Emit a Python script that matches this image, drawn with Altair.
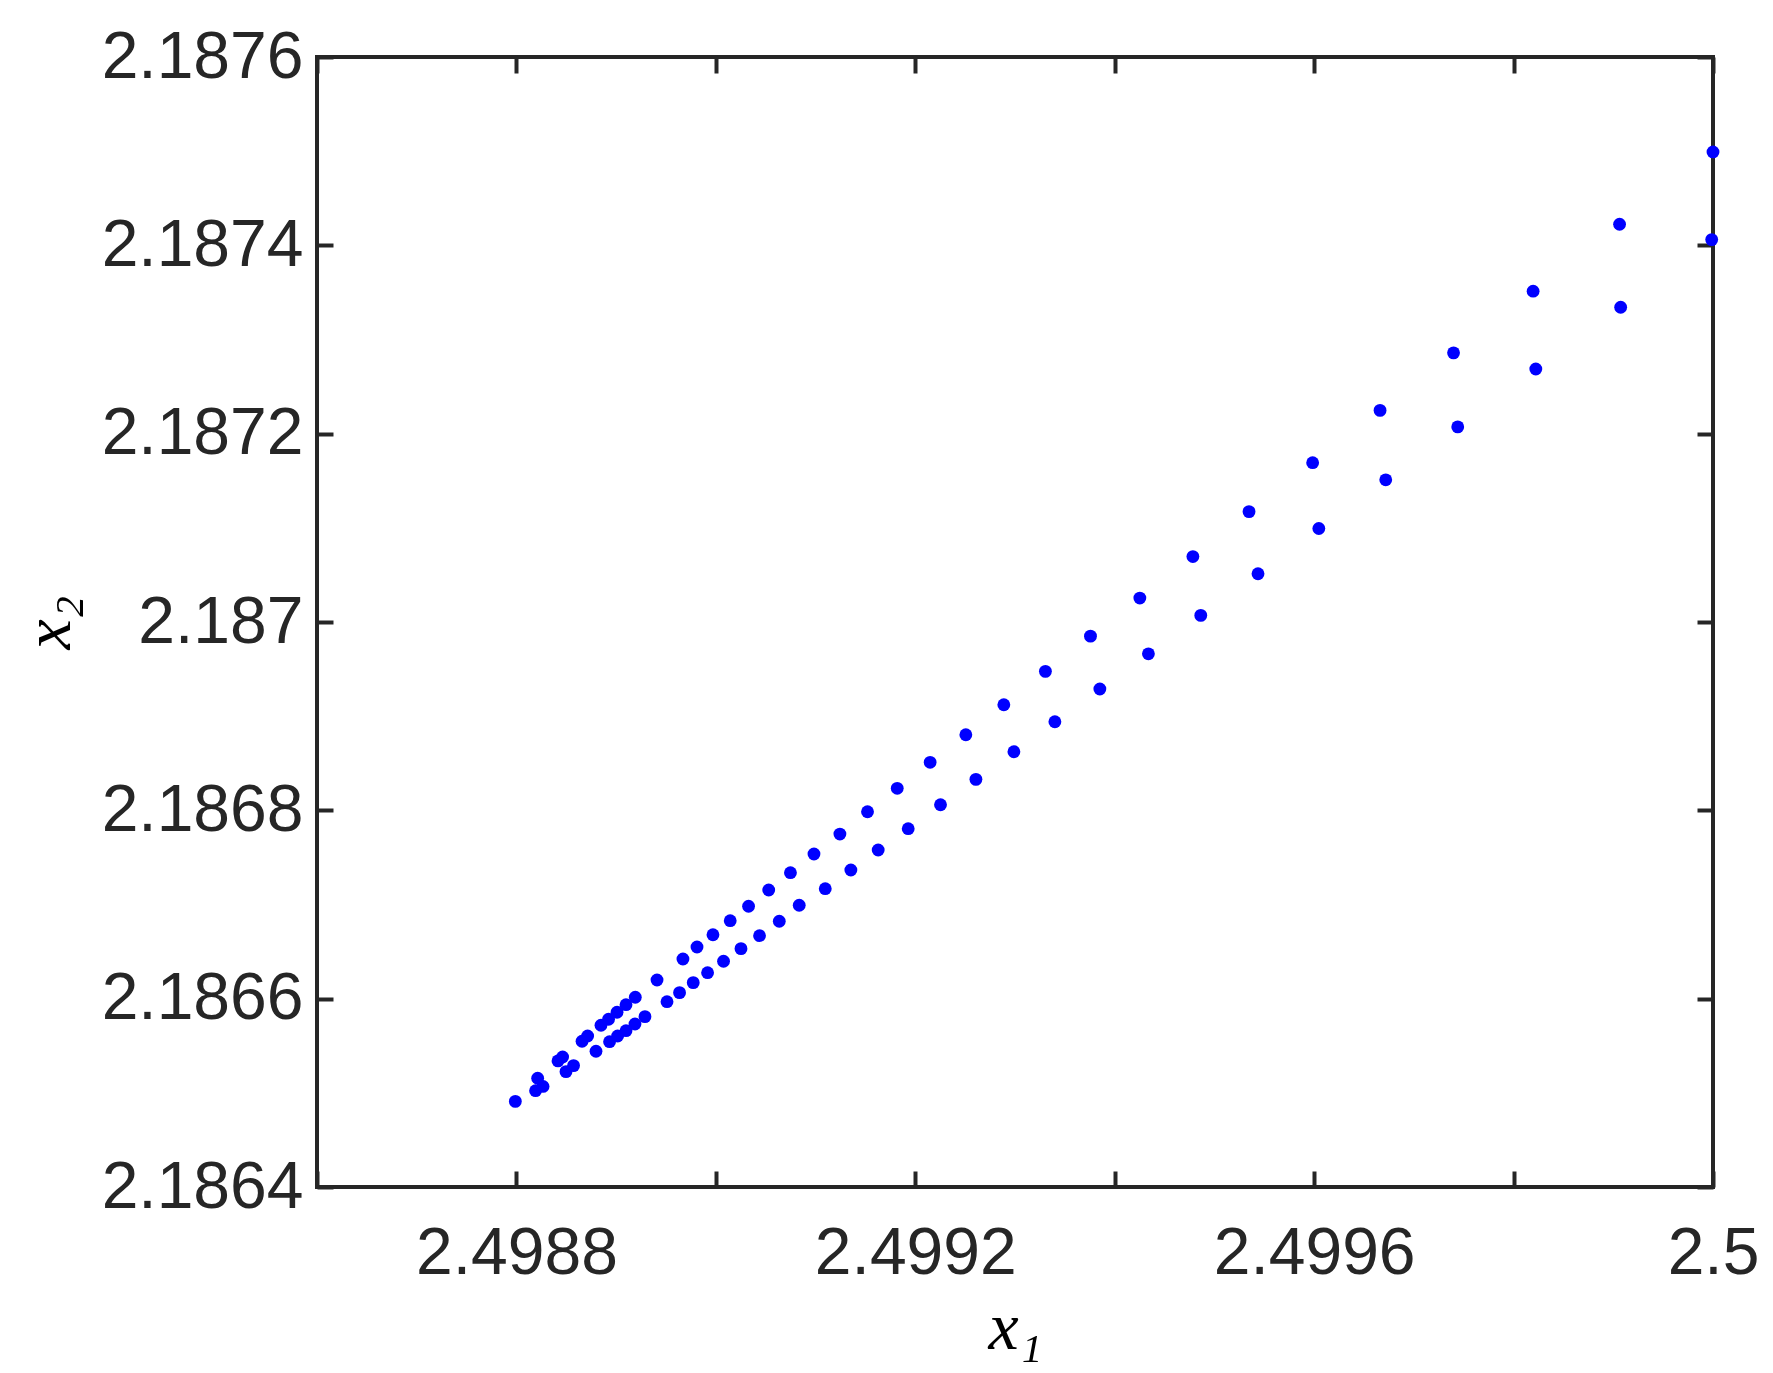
import altair as alt
import pandas as pd

# Upper branch of the iterate sequence
x1_upper = [2.5000000, 2.4999063, 2.4998196, 2.4997398, 2.4996661, 2.4995985, 2.4995347,
            2.4994784, 2.4994252, 2.4993757, 2.4993305, 2.4992888, 2.4992507, 2.4992149,
            2.4991819, 2.4991521, 2.4991244, 2.4990984, 2.4990748, 2.4990530, 2.4990328,
            2.4990144, 2.4989971, 2.4989811, 2.4989670, 2.4989410, 2.4989192, 2.4989099,
            2.4989009, 2.4988924, 2.4988848, 2.4988714, 2.4988658, 2.4988463, 2.4988417,
            2.4988213, 2.4987989]
x2_upper = [2.1874992, 2.1874224, 2.1873513, 2.1872858, 2.1872247, 2.1871692, 2.1871172,
            2.1870695, 2.1870254, 2.1869850, 2.1869476, 2.1869121, 2.1868803, 2.1868510,
            2.1868234, 2.1867985, 2.1867748, 2.1867536, 2.1867338, 2.1867154, 2.1866981,
            2.1866828, 2.1866679, 2.1866549, 2.1866421, 2.1866198, 2.1866015, 2.1865936,
            2.1865856, 2.1865781, 2.1865718, 2.1865604, 2.1865548, 2.1865381, 2.1865339,
            2.1865155, 2.1864909]

# Lower branch
x1_lower = [2.4999987, 2.4999074, 2.4998223, 2.4997440, 2.4996718, 2.4996047, 2.4995437,
            2.4994863, 2.4994338, 2.4993851, 2.4993400, 2.4992989, 2.4992608, 2.4992253,
            2.4991929, 2.4991628, 2.4991354, 2.4991097, 2.4990836, 2.4990636, 2.4990438,
            2.4990252, 2.4990077, 2.4989917, 2.4989773, 2.4989636, 2.4989510, 2.4989289,
            2.4989189, 2.4989099, 2.4989015, 2.4988934, 2.4988798, 2.4988573, 2.4988497,
            2.4988267, 2.4988192]
x2_lower = [2.1874061, 2.1873342, 2.1872687, 2.1872072, 2.1871510, 2.1870993, 2.1870512,
            2.1870070, 2.1869662, 2.1869288, 2.1868941, 2.1868622, 2.1868329, 2.1868059,
            2.1867805, 2.1867579, 2.1867366, 2.1867168, 2.1866992, 2.1866822, 2.1866669,
            2.1866531, 2.1866397, 2.1866276, 2.1866170, 2.1866064, 2.1865968, 2.1865809,
            2.1865731, 2.1865660, 2.1865604, 2.1865543, 2.1865442, 2.1865289, 2.1865225,
            2.1865068, 2.1865023]

x_ticks = [2.4986, 2.4988, 2.4990, 2.4992, 2.4994, 2.4996, 2.4998, 2.5000]
x_labelled = ["2.4988", "2.4992", "2.4996", "2.5"]
y_ticks = [2.1864, 2.1866, 2.1868, 2.1870, 2.1872, 2.1874, 2.1876]

df = pd.DataFrame({
    "x1": x1_upper + x1_lower,
    "x2": x2_upper + x2_lower,
})

AX = "#262626"
xs = alt.Scale(domain=[2.4986, 2.5], nice=False, zero=False)
ys = alt.Scale(domain=[2.1864, 2.1876], nice=False, zero=False)

label_expr = "indexof(" + str(x_labelled) + ", datum.label) >= 0 ? datum.label : ''"

common = dict(domain=False, grid=False, tickColor=AX, tickWidth=4, tickSize=16,
              offset=-16, labelFlush=False, labelOverlap=False, format=".4~f",
              labelLimit=0)

pts = alt.Chart(df).mark_circle(size=165, color="#0000ff", opacity=1).encode(
    x=alt.X("x1:Q", scale=xs, axis=alt.Axis(
        orient="bottom", values=x_ticks, labelExpr=label_expr,
        labelFont="Liberation Sans", labelFontSize=66, labelColor=AX, labelPadding=34,
        title="x₁", titleFont="Liberation Serif", titleFontStyle="italic",
        titleFontWeight="normal", titleFontSize=68, titleColor="#000000", titlePadding=8,
        **common)),
    y=alt.Y("x2:Q", scale=ys, axis=alt.Axis(
        orient="left", values=y_ticks,
        labelFont="Liberation Sans", labelFontSize=66, labelColor=AX, labelPadding=14,
        title="x₂", titleFont="Liberation Serif", titleFontStyle="italic",
        titleFontWeight="normal", titleFontSize=68, titleColor="#000000", titlePadding=50,
        **common)),
)

frame = alt.Chart(df).mark_circle(size=165, opacity=0).encode(
    x=alt.X("x1:Q", scale=xs, axis=alt.Axis(orient="top", values=x_ticks, labels=False, title=None, **common)),
    y=alt.Y("x2:Q", scale=ys, axis=alt.Axis(orient="right", values=y_ticks, labels=False, title=None, **common)),
)

chart = alt.layer(pts, frame).resolve_axis(x="independent", y="independent").properties(
    width=1396, height=1130,
    autosize=alt.AutoSizeParams(type="none"),
    padding={"left": 309, "top": 49, "right": 52, "bottom": 178},
    background="white",
).configure_view(stroke=AX, strokeWidth=4)

chart.save("out.html", embed_options={"renderer": "svg", "actions": False})
